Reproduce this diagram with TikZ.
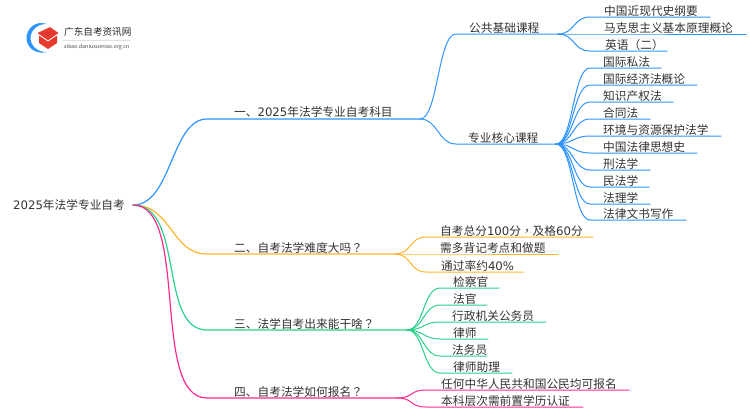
\documentclass[tikz,border=0pt]{standalone}
\usepackage{fontspec}
\setmainfont{Noto Sans CJK SC}
\newfontfamily\tcjk{Noto Sans CJK TC}
\newfontfamily\dgt{DejaVu Sans}
\definecolor{cb}{HTML}{2E95FF}
\definecolor{co}{HTML}{FFB42E}
\definecolor{cg}{HTML}{2BD18B}
\definecolor{cp}{HTML}{FF2A8C}
\definecolor{tx}{HTML}{333333}
\definecolor{logor}{HTML}{E8392E}
\tikzset{
 lbl/.style={anchor=base west,inner sep=0pt,text=tx,font=\fontsize{11.7}{12}\selectfont},
 branch/.style={line width=1.2pt,line cap=round},
 twig/.style={line width=1pt,line cap=round},
}
\begin{document}
\begin{tikzpicture}[x=1pt,y=-1pt]
\useasboundingbox (0,0) rectangle (750,410);
\fill[white] (0,0) rectangle (750,410);
% junctions
\coordinate (root) at (133,205);
\node[lbl] (rootlabel) at (13,209.4) {{\dgt 2025}年法学专业自考};
\coordinate (j1) at (420,119);
\coordinate (j2) at (395,254);
\coordinate (j3) at (407,330);
\coordinate (j4) at (397,398);
\coordinate (jA) at (558,34);
\coordinate (jB) at (556,144);
% main branches
\draw[branch,cb] (root) .. controls (172,205) and (171,119) .. (207,119) -- (j1);
\draw[branch,co] (root) .. controls (172,205) and (171,254) .. (207,254) -- (j2);
\draw[branch,cg] (root) .. controls (185,205) and (158,330) .. (207,330) -- (j3);
\draw[branch,cp] (root) .. controls (190,205) and (150,398) .. (207,398) -- (j4);
\node[lbl] (n1) at (234,116.4) {一、{\dgt 2025}年法学专业自考科目};
\node[lbl] (n2) at (234,252.4) {二、自考法学难度大吗{\tcjk ？}};
\node[lbl] (n3) at (234,328.4) {三、法学自考出来能干啥{\tcjk ？}};
\node[lbl] (n4) at (234,396.4) {四、自考法学如何报名{\tcjk ？}};
% second level blue
\draw[twig,cb] (j1) .. controls (438,119) and (438,34) .. (456,34) -- (jA);
\draw[twig,cb] (j1) .. controls (438,119) and (438,144) .. (456,144) -- (jB);
\node[lbl] (a) at (469,32) {公共基础课程};
\node[lbl] (b) at (468,142) {专业核心课程};
% leaves
\foreach \j/\sx/\ex/\lx/\y/\c/\t in {
 jA/590/710/604/17/cb/中国近现代史纲要,
 jA/590/746/604/34/cb/马克思主义基本原理概论,
 jA/590/667/605/51/cb/英语{\tcjk （}二{\tcjk ）},
 jB/590/661/603/68/cb/国际私法,
 jB/590/697/603/85/cb/国际经济法概论,
 jB/590/673/603/102/cb/知识产权法,
 jB/590/650/603/119/cb/合同法,
 jB/590/721/603/136/cb/环境与资源保护法学,
 jB/590/697/603/153/cb/中国法律思想史,
 jB/590/650/603/170/cb/刑法学,
 jB/590/649/603/187/cb/民法学,
 jB/590/650/603/204/cb/法理学,
 jB/590/686/603/220/cb/法律文书写作,
 j2/426/593/440/237/co/自考总分{\dgt 100}分{\tcjk ，}及格{\dgt 60}分,
 j2/426/558/440/254/co/需多背记考点和做题,
 j2/426/523/441/272/co/通过率约{\dgt 40\%},
 j3/440/499/453/288/cg/检察官,
 j3/440/487/453/305/cg/法官,
 j3/440/546/452/322/cg/行政机关公务员,
 j3/440/488/453/339/cg/律师,
 j3/440/487/452/356/cg/法务员,
 j3/440/512/453/373/cg/律师助理,
 j4/426/629/441/390/cp/任何中华人民共和国公民均可报名,
 j4/426/583/441/407/cp/本科层次需前置学历认证}{
  \coordinate (t) at (\sx,\y);
  \coordinate (u) at (\ex,\y);
  \draw[twig,\c] (\j) .. controls ([xshift=17pt]\j) and ([xshift=-17pt]t) .. (t) -- (u);
  \node[lbl] at (\lx,\y-2) {\t};
}
% logo
\fill[cb] (47,24) .. controls (35,20) and (26.5,29) .. (26.5,38) .. controls (26.5,47) and (35,55) .. (47,52)
 .. controls (38,52.5) and (30.5,46) .. (30.5,38) .. controls (30.5,30) and (38,23.5) .. (47,24) -- cycle;
\fill[logor] (39,36) -- (57,36) -- (57,43) -- (48,49) -- (39,43) -- cycle;
\fill[logor,draw=white,line width=0.8pt] (36.5,33) -- (50,26.5) -- (59.5,33) -- (48,41) -- cycle;
\node[anchor=base west,inner sep=0pt,text=black!85,font=\fontsize{9.6}{10}\selectfont] (lg) at (64,35) {广东自考资讯网};
\node[anchor=base west,inner sep=0pt,text=black!70,font=\fontsize{5.4}{6}\selectfont] (ls) at (64,48.5) {zikao.daniuxueriao.org.cn};
\draw[black!12,line width=0.4pt] (63,40) -- (131,40);
\end{tikzpicture}
\end{document}
